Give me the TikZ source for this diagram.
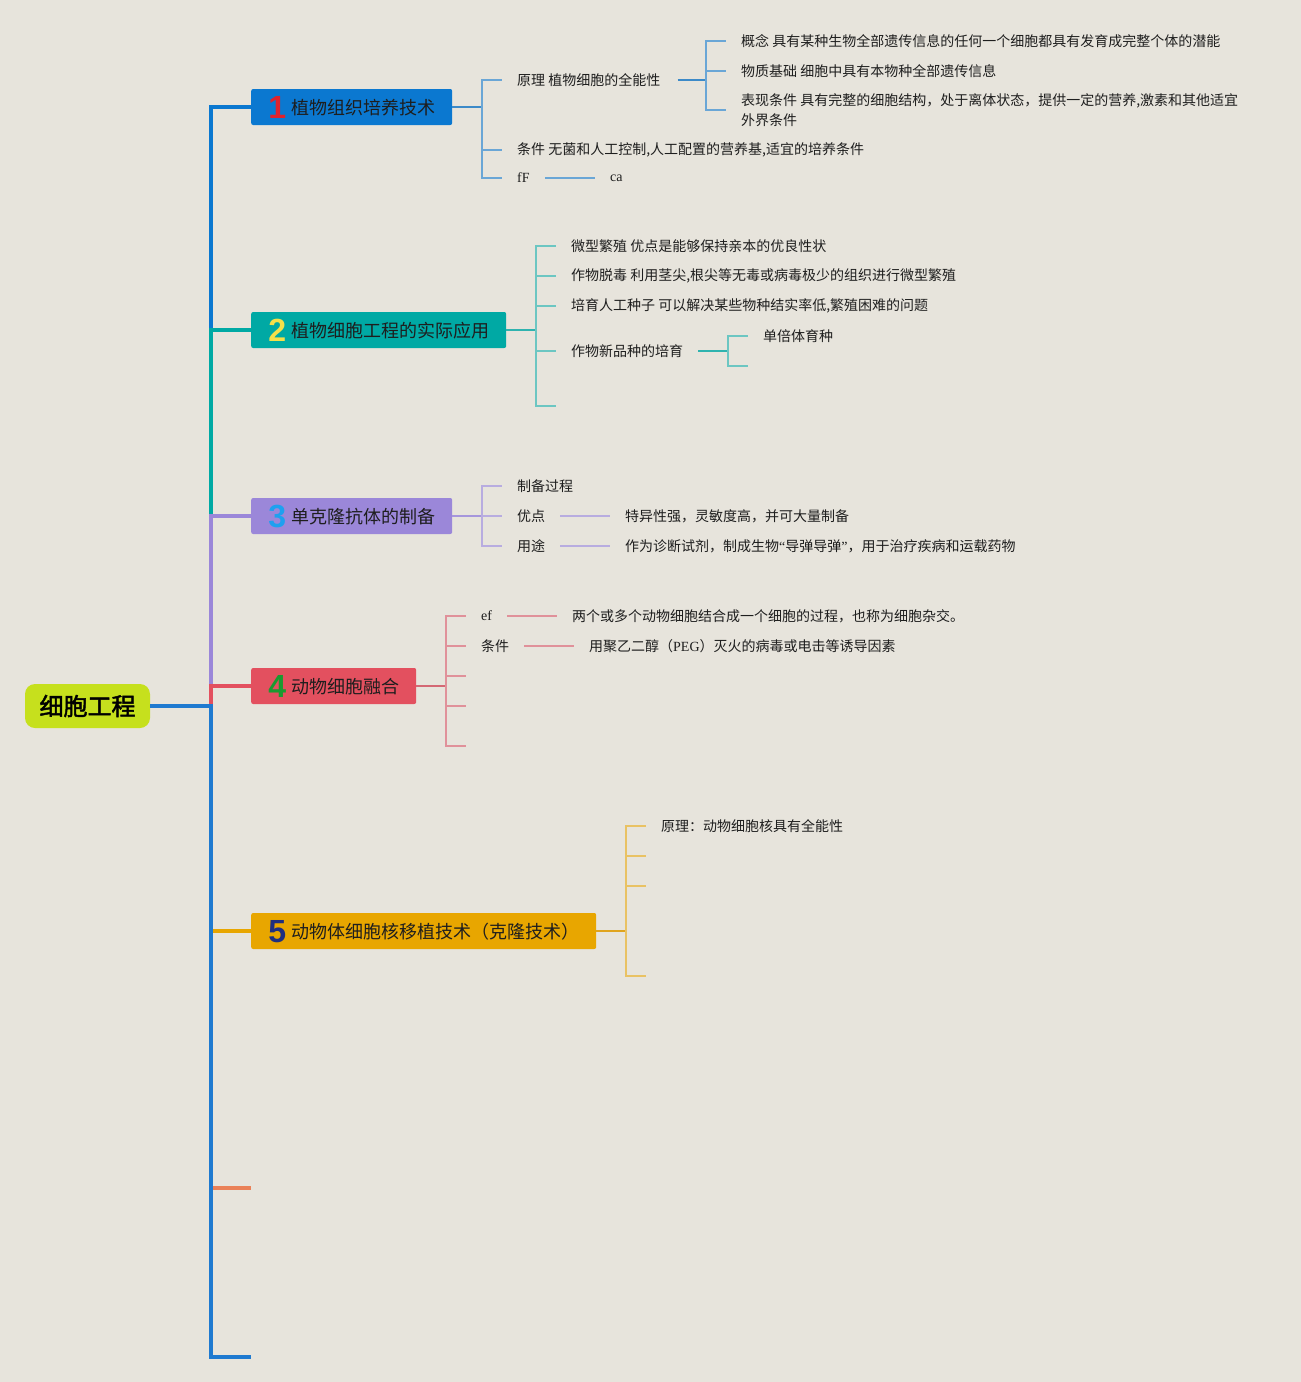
\documentclass[tikz,border=0pt]{standalone}
\usepackage{fontspec}
\setmainfont{Noto Sans CJK SC}
\newfontfamily\latfont{Liberation Serif}
\newfontfamily\numfont{Liberation Sans}
\newfontfamily\rootfont{Noto Sans CJK SC}[FakeBold=2]
\definecolor{bgc}{HTML}{E7E4DC}
\definecolor{txt}{HTML}{1E1E1E}
\definecolor{rootc}{HTML}{C6E01D}
\definecolor{c1}{HTML}{0B78D0}
\definecolor{c1l}{HTML}{3C8AC8}
\definecolor{c1t}{HTML}{6AA6D6}
\definecolor{c2}{HTML}{00A9A4}
\definecolor{c2l}{HTML}{2FB3AF}
\definecolor{c2t}{HTML}{6CC6C2}
\definecolor{c3}{HTML}{9B87D9}
\definecolor{c3l}{HTML}{A696DC}
\definecolor{c3t}{HTML}{B8ACE0}
\definecolor{c4}{HTML}{E3505F}
\definecolor{c4l}{HTML}{D46874}
\definecolor{c4t}{HTML}{E0919A}
\definecolor{c5}{HTML}{E8A600}
\definecolor{c5l}{HTML}{E0A41E}
\definecolor{c5t}{HTML}{E9C264}
\definecolor{c6}{HTML}{EA8158}
\definecolor{c7}{HTML}{1F7AD0}
\definecolor{n1}{HTML}{E0222E}
\definecolor{n2}{HTML}{F4E04A}
\definecolor{n3}{HTML}{1EA0F0}
\definecolor{n4}{HTML}{1A9A30}
\definecolor{n5}{HTML}{1F2F7F}
\newcommand\topicnum[2]{\smash{\raisebox{-4pt}{\numfont\bfseries\fontsize{32}{32}\selectfont\color{#1}#2}}\hspace{5pt}}
\begin{document}
\begin{tikzpicture}[x=1pt,y=-1pt,
  trunk/.style={line width=4pt},
  stem/.style={line width=2pt},
  twig/.style={line width=1.5pt},
  topic/.style={anchor=west,minimum height=36pt,text height=14pt,text depth=0pt,rounded corners=2pt,inner xsep=14pt,text=txt,font=\fontsize{18}{18}\selectfont},
  leaf/.style={anchor=west,inner sep=0pt,text=txt,align=left,font=\fontsize{14}{20}\selectfont}]
\fill[bgc] (0,0) rectangle (1301,1382);
\useasboundingbox (0,0) rectangle (1301,1382);

\node[fill=rootc,rounded corners=10pt,minimum width=125pt,minimum height=44pt,text=black,font=\rootfont\fontsize{24}{24}\selectfont] (root) at (87.5,706) {细胞工程};
\coordinate (hub) at (211,706);

\node[topic,fill=c1,minimum width=201pt] (b1) at (251,107) {\topicnum{n1}{1}植物组织培养技术};
\node[topic,fill=c2,minimum width=255pt] (b2) at (251,330) {\topicnum{n2}{2}植物细胞工程的实际应用};
\node[topic,fill=c3,minimum width=201pt] (b3) at (251,516) {\topicnum{n3}{3}单克隆抗体的制备};
\node[topic,fill=c4,minimum width=165pt] (b4) at (251,686) {\topicnum{n4}{4}动物细胞融合};
\node[topic,fill=c5,minimum width=345pt] (b5) at (251,931) {\topicnum{n5}{5}动物体细胞核移植技术（克隆技术）};
\coordinate (e6) at (251,1188);
\coordinate (e7) at (251,1357);

\draw[trunk,c1] (root.east) -- (hub) |- (b1.west);
\draw[trunk,c2] (root.east) -- (hub) |- (b2.west);
\draw[trunk,c3] (root.east) -- (hub) |- (b3.west);
\draw[trunk,c4] (root.east) -- (hub) |- (b4.west);
\draw[trunk,c5] (root.east) -- (hub) |- (b5.west);
\draw[trunk,c6] (root.east) -- (hub) |- (e6);
\draw[trunk,c7] (root.east) -- (hub) |- (e7);

\node[leaf] (p11) at (517,80) {原理 植物细胞的全能性};
\node[leaf] (p12) at (517,150) {条件 无菌和人工控制,人工配置的营养基,适宜的培养条件};
\node[leaf,font=\latfont\fontsize{14}{20}\selectfont] (p13) at (517,178) {fF};
\node[leaf,font=\latfont\fontsize{14}{20}\selectfont] (r13) at (610,178) {ca};
\node[leaf] (q11) at (741,41) {概念 具有某种生物全部遗传信息的任何一个细胞都具有发育成完整个体的潜能};
\node[leaf] (q12) at (741,71) {物质基础 细胞中具有本物种全部遗传信息};
\node[leaf] (q13) at (741,110) {表现条件 具有完整的细胞结构，处于离体状态，提供一定的营养,激素和其他适宜\\外界条件};
\coordinate (j1) at (482,107);
\coordinate (j11) at (706,80);
\draw[stem,c1l] (b1.east) -- (j1);
\draw[twig,c1t] (j1) |- ([xshift=-15pt]p11.west);
\draw[twig,c1t] (j1) |- ([xshift=-15pt]p12.west);
\draw[twig,c1t] (j1) |- ([xshift=-15pt]p13.west);
\draw[twig,c1t] ([xshift=15pt]p13.east) -- ([xshift=-15pt]r13.west);
\draw[stem,c1l] ([xshift=17pt]p11.east) -- (j11);
\draw[twig,c1t] (j11) |- ([xshift=-15pt]q11.west);
\draw[twig,c1t] (j11) |- ([xshift=-15pt]q12.west);
\draw[twig,c1t] (j11) |- ([xshift=-15pt]q13.west);

\node[leaf] (p21) at (571,246) {微型繁殖 优点是能够保持亲本的优良性状};
\node[leaf] (p22) at (571,276) {作物脱毒 利用茎尖,根尖等无毒或病毒极少的组织进行微型繁殖};
\node[leaf] (p23) at (571,306) {培育人工种子 可以解决某些物种结实率低,繁殖困难的问题};
\node[leaf] (p24) at (571,351) {作物新品种的培育};
\coordinate (p25) at (556,406);
\node[leaf] (q21) at (763,336) {单倍体育种};
\coordinate (q22) at (748,366);
\coordinate (j2) at (536,330);
\coordinate (j24) at (728,351);
\draw[stem,c2l] (b2.east) -- (j2);
\draw[twig,c2t] (j2) |- ([xshift=-15pt]p21.west);
\draw[twig,c2t] (j2) |- ([xshift=-15pt]p22.west);
\draw[twig,c2t] (j2) |- ([xshift=-15pt]p23.west);
\draw[twig,c2t] (j2) |- ([xshift=-15pt]p24.west);
\draw[twig,c2t] (j2) |- (p25);
\draw[stem,c2l] ([xshift=15pt]p24.east) -- (j24);
\draw[twig,c2t] (j24) |- ([xshift=-15pt]q21.west);
\draw[twig,c2t] (j24) |- (q22);

\node[leaf] (p31) at (517,486) {制备过程};
\node[leaf] (p32) at (517,516) {优点};
\node[leaf] (p33) at (517,546) {用途};
\node[leaf] (r32) at (625,516) {特异性强，灵敏度高，并可大量制备};
\node[leaf] (r33) at (625,546) {作为诊断试剂，制成生物{\latfont “}导弹导弹{\latfont ”}，用于治疗疾病和运载药物};
\coordinate (j3) at (482,516);
\draw[stem,c3l] (b3.east) -- (j3);
\draw[twig,c3t] (j3) |- ([xshift=-15pt]p31.west);
\draw[twig,c3t] (j3) |- ([xshift=-15pt]p32.west);
\draw[twig,c3t] (j3) |- ([xshift=-15pt]p33.west);
\draw[twig,c3t] ([xshift=15pt]p32.east) -- ([xshift=-15pt]r32.west);
\draw[twig,c3t] ([xshift=15pt]p33.east) -- ([xshift=-15pt]r33.west);

\node[leaf,font=\latfont\fontsize{14}{20}\selectfont] (p41) at (481,616) {ef};
\node[leaf] (p42) at (481,646) {条件};
\coordinate (p43) at (466,676);
\coordinate (p44) at (466,706);
\coordinate (p45) at (466,746);
\node[leaf] (r41) at (572,616) {两个或多个动物细胞结合成一个细胞的过程，也称为细胞杂交。};
\node[leaf] (r42) at (589,646) {用聚乙二醇（{\latfont PEG}）灭火的病毒或电击等诱导因素};
\coordinate (j4) at (446,686);
\draw[stem,c4l] (b4.east) -- (j4);
\draw[twig,c4t] (j4) |- ([xshift=-15pt]p41.west);
\draw[twig,c4t] (j4) |- ([xshift=-15pt]p42.west);
\draw[twig,c4t] (j4) |- (p43);
\draw[twig,c4t] (j4) |- (p44);
\draw[twig,c4t] (j4) |- (p45);
\draw[twig,c4t] ([xshift=15pt]p41.east) -- ([xshift=-15pt]r41.west);
\draw[twig,c4t] ([xshift=15pt]p42.east) -- ([xshift=-15pt]r42.west);

\node[leaf] (p51) at (661,826) {原理：动物细胞核具有全能性};
\coordinate (p52) at (646,856);
\coordinate (p53) at (646,886);
\coordinate (p54) at (646,976);
\coordinate (j5) at (626,931);
\draw[stem,c5l] (b5.east) -- (j5);
\draw[twig,c5t] (j5) |- ([xshift=-15pt]p51.west);
\draw[twig,c5t] (j5) |- (p52);
\draw[twig,c5t] (j5) |- (p53);
\draw[twig,c5t] (j5) |- (p54);
\end{tikzpicture}
\end{document}
